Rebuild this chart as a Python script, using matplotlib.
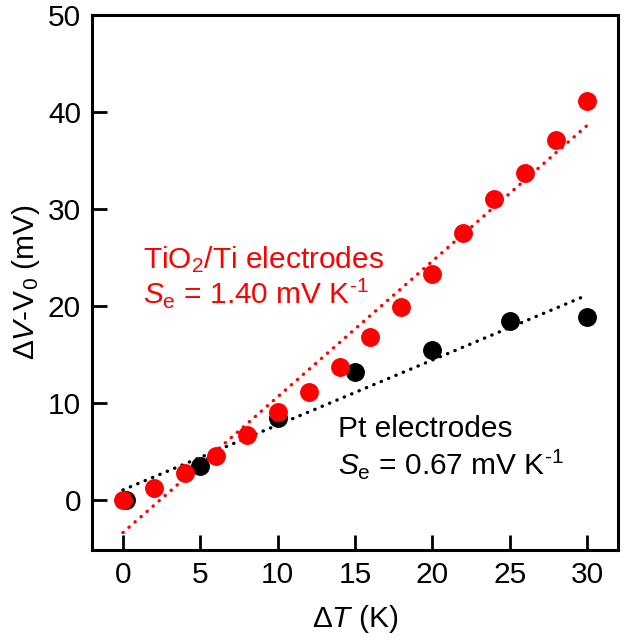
import numpy as np
import matplotlib
matplotlib.use("Agg")
import matplotlib.pyplot as plt

# ── data ─────────────────────────────────────────────────────────────────────
tio2_dT = [0, 2, 4, 6, 8, 10, 12, 14, 16, 18, 20, 22, 24, 26, 28, 30]
tio2_dV = [0.0, 1.2, 2.7, 4.5, 6.7, 9.0, 11.1, 13.7, 16.8, 19.9,
           23.3, 27.5, 31.0, 33.7, 37.1, 41.1]

pt_dT = [0.2, 5, 10, 15, 20, 25, 30]
pt_dV = [0.0, 3.5, 8.4, 13.2, 15.4, 18.4, 18.8]

# linear fits (slope mV/K, intercept mV)
tio2_fit = (1.40, -3.4)
pt_fit = (0.67, 1.0)
fit_range = [0, 30]

xticks = [0, 5, 10, 15, 20, 25, 30]
yticks = [0, 10, 20, 30, 40, 50]

RED = "#ff0000"
FS = 21.5

plt.rcParams["font.family"] = ["Liberation Sans", "DejaVu Sans"]
plt.rcParams["mathtext.fontset"] = "custom"
plt.rcParams["mathtext.rm"] = "Liberation Sans"
plt.rcParams["mathtext.it"] = "Liberation Sans:italic"
plt.rcParams["mathtext.default"] = "regular"

fig = plt.figure(figsize=(6.30, 6.37), dpi=100)
ax = fig.add_axes([92 / 630, 87 / 637, 526 / 630, 535 / 637])

xf = np.array(fit_range, dtype=float)
ax.plot(xf, pt_fit[0] * xf + pt_fit[1], color="black", lw=2.4,
        linestyle=(0, (0.1, 2.3)), dash_capstyle="round", zorder=2)
ax.plot(xf, tio2_fit[0] * xf + tio2_fit[1], color=RED, lw=2.4,
        linestyle=(0, (0.1, 2.3)), dash_capstyle="round", zorder=2)

ax.scatter(pt_dT, pt_dV, s=185, color="black", linewidths=0, zorder=3)
ax.scatter(tio2_dT, tio2_dV, s=185, color=RED, linewidths=0, zorder=4)

sup = r"K$^{\text{-}1}$"
ax.text(1.3, 23.9, "TiO$_2$/Ti electrodes", color=RED, fontsize=FS,
        va="baseline")
ax.text(1.3, 20.3, r"$\mathit{S}_\mathrm{e}$ = 1.40 mV " + sup, color=RED,
        fontsize=FS, va="baseline")
ax.text(13.9, 6.5, "Pt electrodes", color="black", fontsize=FS,
        va="baseline")
ax.text(13.9, 2.6, r"$\mathit{S}_\mathrm{e}$ = 0.67 mV " + sup,
        color="black", fontsize=FS, va="baseline")

ax.set_xlim(-2, 32)
ax.set_ylim(-5.2, 50)
ax.set_xticks(xticks)
ax.set_yticks(yticks)
ax.tick_params(direction="in", length=11, width=2, labelsize=FS,
               top=False, right=False, pad=8)
for sp in ax.spines.values():
    sp.set_linewidth(2.2)

ax.set_xlabel(r"$\mathit{ΔT}$ (K)", fontsize=FS, labelpad=10)
ax.set_ylabel(r"$\mathit{ΔV}$-V$_0$ (mV)", fontsize=FS, labelpad=4)

fig.savefig("out.png", dpi=100)
plt.close(fig)
